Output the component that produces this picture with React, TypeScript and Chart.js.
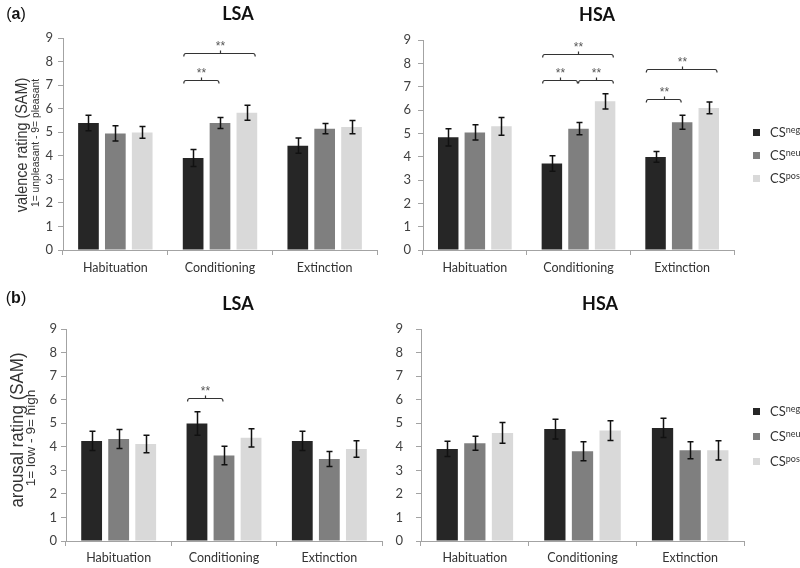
import React, { useEffect, useRef } from 'react';
import { Chart, registerables } from 'chart.js';

Chart.register(...registerables);

// ---------- data ----------
const categories = ['Habituation', 'Conditioning', 'Extinction'];
const seriesSup = ['neg', 'neu', 'pos'];
const seriesColors = ['#262626', '#7f7f7f', '#d9d9d9'];

// (a) valence, LSA
const valLSA_neg = [5.39, 3.91, 4.43];
const valLSA_neu = [4.95, 5.39, 5.15];
const valLSA_pos = [4.99, 5.83, 5.22];
const valLSA_negErr = [0.33, 0.36, 0.32];
const valLSA_neuErr = [0.32, 0.23, 0.22];
const valLSA_posErr = [0.25, 0.32, 0.28];

// (a) valence, HSA
const valHSA_neg = [4.83, 3.71, 3.99];
const valHSA_neu = [5.04, 5.2, 5.47];
const valHSA_pos = [5.3, 6.37, 6.09];
const valHSA_negErr = [0.37, 0.33, 0.23];
const valHSA_neuErr = [0.33, 0.26, 0.3];
const valHSA_posErr = [0.38, 0.33, 0.25];

// (b) arousal, LSA
const aroLSA_neg = [4.25, 4.99, 4.25];
const aroLSA_neu = [4.33, 3.63, 3.48];
const aroLSA_pos = [4.12, 4.38, 3.91];
const aroLSA_negErr = [0.41, 0.5, 0.41];
const aroLSA_neuErr = [0.4, 0.39, 0.32];
const aroLSA_posErr = [0.37, 0.39, 0.35];

// (b) arousal, HSA
const aroHSA_neg = [3.91, 4.75, 4.8];
const aroHSA_neu = [4.15, 3.81, 3.85];
const aroHSA_pos = [4.59, 4.69, 3.85];
const aroHSA_negErr = [0.32, 0.42, 0.41];
const aroHSA_neuErr = [0.3, 0.4, 0.36];
const aroHSA_posErr = [0.44, 0.42, 0.41];

// significance brackets: category index, series from/to, level on the y scale
type Bracket = { cat: number; from: number; to: number; level: number };
const valLSA_sig: Bracket[] = [
  { cat: 1, from: 0, to: 1, level: 7.2 },
  { cat: 1, from: 0, to: 2, level: 8.37 },
];
const valHSA_sig: Bracket[] = [
  { cat: 1, from: 0, to: 1, level: 7.29 },
  { cat: 1, from: 1, to: 2, level: 7.29 },
  { cat: 1, from: 0, to: 2, level: 8.39 },
  { cat: 2, from: 0, to: 1, level: 6.49 },
  { cat: 2, from: 0, to: 2, level: 7.74 },
];
const aroLSA_sig: Bracket[] = [{ cat: 1, from: 0, to: 1, level: 6.05 }];
const aroHSA_sig: Bracket[] = [];

const yMin = 0;
const yMax = 9;
const sigLabel = '**';

// ---------- styling ----------
const FONT = 'Lato, "Open Sans", sans-serif';
const AXIS = '#a3a3a3';

function errorBarPlugin(errors: number[][]) {
  return {
    id: 'errbars',
    afterDatasetsDraw(chart: any) {
      const ctx = chart.ctx;
      const ys = chart.scales.y;
      chart.data.datasets.forEach((ds: any, di: number) => {
        const meta = chart.getDatasetMeta(di);
        meta.data.forEach((bar: any, i: number) => {
          const v = ds.data[i];
          const e = errors[di][i];
          const x = Math.round(bar.x) + 0.5;
          const yt = ys.getPixelForValue(v + e);
          const yb = ys.getPixelForValue(v - e);
          ctx.save();
          ctx.strokeStyle = '#111';
          ctx.lineWidth = 1.5;
          ctx.beginPath();
          ctx.moveTo(x, yt);
          ctx.lineTo(x, yb);
          ctx.moveTo(x - 3, yt);
          ctx.lineTo(x + 3, yt);
          ctx.moveTo(x - 3, yb);
          ctx.lineTo(x + 3, yb);
          ctx.stroke();
          ctx.restore();
        });
      });
    },
  };
}

function bracketPlugin(brackets: Bracket[]) {
  return {
    id: 'brackets',
    afterDatasetsDraw(chart: any) {
      const ctx = chart.ctx;
      const ys = chart.scales.y;
      brackets.forEach((b) => {
        const fb = chart.getDatasetMeta(b.from).data[b.cat];
        const tb = chart.getDatasetMeta(b.to).data[b.cat];
        const x1 = b.from === 0 ? fb.x - fb.width / 2 + 1 : fb.x;
        const x2 = b.to === 2 ? tb.x + tb.width / 2 - 2 : tb.x - 1;
        const yy = Math.round(ys.getPixelForValue(b.level)) + 0.5;
        const xm = Math.round((x1 + x2) / 2) + 0.5;
        ctx.save();
        ctx.strokeStyle = '#333';
        ctx.lineWidth = 1.2;
        ctx.beginPath();
        ctx.moveTo(x1, yy + 3);
        ctx.quadraticCurveTo(x1, yy, x1 + 2, yy);
        ctx.lineTo(x2 - 2, yy);
        ctx.quadraticCurveTo(x2, yy, x2, yy + 3);
        ctx.moveTo(xm, yy);
        ctx.lineTo(xm, yy - 3);
        ctx.stroke();
        ctx.fillStyle = '#555';
        ctx.font = '12px "Liberation Sans", Arial, sans-serif';
        ctx.textAlign = 'center';
        ctx.textBaseline = 'alphabetic';
        ctx.fillText(sigLabel, xm, yy - 4);
        ctx.restore();
      });
    },
  };
}

type PanelProps = {
  x: number; y: number; w: number; h: number;
  values: number[][]; errors: number[][]; brackets: Bracket[];
  yWidth: number; padRight: number; padTop: number; xHeight: number;
  yPad: number; xPad: number;
};

function Panel(p: PanelProps) {
  const ref = useRef<HTMLCanvasElement>(null);
  useEffect(() => {
    const canvas = ref.current!;
    const chart = new Chart(canvas, {
      type: 'bar',
      data: {
        labels: categories,
        datasets: p.values.map((vals, i) => ({
          label: 'CS ' + seriesSup[i],
          data: vals,
          backgroundColor: seriesColors[i],
          borderWidth: 0,
          categoryPercentage: 0.77,
          barPercentage: 0.77,
        })),
      },
      options: {
        responsive: false,
        animation: false,
        devicePixelRatio: 1,
        layout: { padding: { left: 0, right: p.padRight, top: p.padTop, bottom: 0 } },
        plugins: {
          legend: { display: false },
          tooltip: { enabled: false },
          title: { display: false },
        },
        scales: {
          x: {
            grid: {
              display: true, offset: true, drawOnChartArea: false, drawTicks: true,
              tickLength: 5, color: AXIS, lineWidth: 1,
            },
            border: { display: true, color: AXIS, width: 1 },
            ticks: {
              font: { family: FONT, size: 12.5 }, color: '#333', padding: p.xPad,
              maxRotation: 0, autoSkip: false,
            },
            afterFit: (s: any) => { s.height = p.xHeight; },
          },
          y: {
            min: yMin, max: yMax,
            grid: {
              display: true, drawOnChartArea: false, drawTicks: true,
              tickLength: 5, color: AXIS, lineWidth: 1,
            },
            border: { display: true, color: AXIS, width: 1 },
            ticks: {
              stepSize: 1, font: { family: FONT, size: 13 }, color: '#404040', padding: p.yPad,
            },
            afterFit: (s: any) => { s.width = p.yWidth; },
          },
        },
      } as any,
      plugins: [errorBarPlugin(p.errors), bracketPlugin(p.brackets)],
    });
    return () => chart.destroy();
  }, []);
  return (
    <canvas
      ref={ref}
      width={p.w}
      height={p.h}
      style={{ position: 'absolute', left: p.x, top: p.y, width: p.w, height: p.h }}
    />
  );
}

function Label(props: { x: number; y: number; text: React.ReactNode; style?: React.CSSProperties; transform?: string }) {
  return (
    <div
      style={{
        position: 'absolute', left: props.x, top: props.y, whiteSpace: 'nowrap', lineHeight: 1,
        transform: 'translate(-50%, -50%)' + (props.transform || ''),
        ...props.style,
      }}
    >
      {props.text}
    </div>
  );
}

function Legend(props: { x: number; ys: number[] }) {
  return (
    <>
      {seriesSup.map((s, i) => (
        <div
          key={s}
          style={{
            position: 'absolute', left: props.x, top: props.ys[i] - 10, height: 20,
            display: 'flex', alignItems: 'center', fontFamily: FONT, fontSize: 13, color: '#333',
          }}
        >
          <div style={{ width: 7, height: 7, background: seriesColors[i], marginRight: 10 }} />
          <span style={{ lineHeight: 1 }}>
            CS<sup style={{ fontSize: 9, lineHeight: 1, verticalAlign: 4 }}>{s}</sup>
          </span>
        </div>
      ))}
    </>
  );
}

export default function App() {
  const titleStyle: React.CSSProperties = { fontFamily: FONT, fontWeight: 700, fontSize: 18, color: '#111' };
  const tagStyle: React.CSSProperties = { fontFamily: '"Liberation Sans", Arial, sans-serif', fontSize: 16, color: '#111' };
  const ytBig: React.CSSProperties = { fontFamily: '"Liberation Sans", Arial, sans-serif', color: '#333' };
  return (
    <div style={{ position: 'absolute', left: 0, top: 0, width: 800, height: 568, background: '#fff', overflow: 'hidden' }}>
      <Panel
        x={0} y={0} w={390} h={285}
        values={[valLSA_neg, valLSA_neu, valLSA_pos]}
        errors={[valLSA_negErr, valLSA_neuErr, valLSA_posErr]}
        brackets={valLSA_sig}
        yWidth={63} padRight={13} padTop={38} xHeight={35} yPad={5} xPad={5.5}
      />
      <Panel
        x={390} y={0} w={410} h={285}
        values={[valHSA_neg, valHSA_neu, valHSA_pos]}
        errors={[valHSA_negErr, valHSA_neuErr, valHSA_posErr]}
        brackets={valHSA_sig}
        yWidth={33} padRight={66} padTop={40} xHeight={35} yPad={7} xPad={5.5}
      />
      <Panel
        x={0} y={285} w={390} h={283}
        values={[aroLSA_neg, aroLSA_neu, aroLSA_pos]}
        errors={[aroLSA_negErr, aroLSA_neuErr, aroLSA_posErr]}
        brackets={aroLSA_sig}
        yWidth={66} padRight={8} padTop={44} xHeight={27} yPad={4} xPad={4.5}
      />
      <Panel
        x={390} y={285} w={410} h={283}
        values={[aroHSA_neg, aroHSA_neu, aroHSA_pos]}
        errors={[aroHSA_negErr, aroHSA_neuErr, aroHSA_posErr]}
        brackets={aroHSA_sig}
        yWidth={31} padRight={56} padTop={44} xHeight={27} yPad={13} xPad={4.5}
      />

      <Label x={16} y={14} text={<span>(<b>a</b>)</span>} style={tagStyle} />
      <Label x={16} y={298} text={<span>(<b>b</b>)</span>} style={tagStyle} />
      <Label x={238} y={13} text="LSA" style={titleStyle} />
      <Label x={597} y={14} text="HSA" style={titleStyle} />
      <Label x={238} y={303} text="LSA" style={titleStyle} />
      <Label x={600} y={303} text="HSA" style={titleStyle} />

      <Label x={22} y={145} text="valence rating (SAM)" style={{ ...ytBig, fontSize: 16 }} transform=" rotate(-90deg) scaleX(0.9)" />
      <Label x={34.5} y={143} text="1= unpleasant - 9= pleasant" style={{ ...ytBig, fontSize: 11 }} transform=" rotate(-90deg) scaleX(0.94)" />
      <Label x={17} y={430} text="arousal rating (SAM)" style={{ ...ytBig, fontSize: 18 }} transform=" rotate(-90deg) scaleX(0.94)" />
      <Label x={31} y={438} text="1= low - 9= high" style={{ ...ytBig, fontSize: 12 }} transform=" rotate(-90deg) scaleX(1.13)" />

      <Legend x={753} ys={[132, 155, 178]} />
      <Legend x={753} ys={[411, 436, 461]} />
    </div>
  );
}
